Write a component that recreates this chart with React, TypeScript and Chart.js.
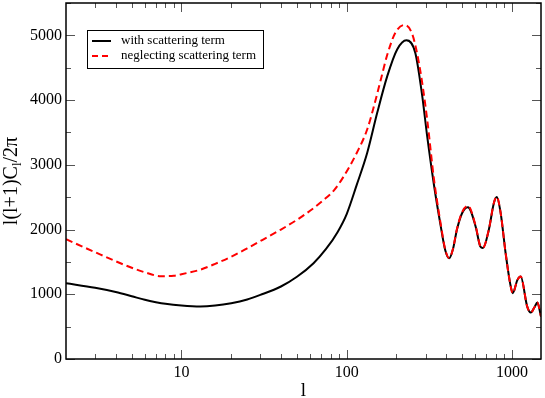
import React, { useEffect, useRef } from "react";
import { Chart, registerables } from "chart.js";

Chart.register(...registerables);

// multipole l and l(l+1)C_l/2pi — with scattering term
const ELL_WITH = [2, 3, 4, 5, 6, 7, 8, 10, 13, 16, 20, 25, 30, 40, 50, 63, 75, 88, 100, 115, 133, 153, 176, 202, 230, 260, 286, 307, 337, 371, 395, 417, 440, 465, 500, 542, 603, 644, 668, 725, 778, 810, 855, 916, 975, 1012, 1080, 1130, 1238, 1302, 1370, 1426, 1500];
const CL_WITH = [1170, 1100, 1035, 970, 915, 878, 852, 825, 810, 825, 862, 920, 990, 1120, 1270, 1480, 1700, 1960, 2240, 2690, 3183, 3803, 4370, 4783, 4925, 4732, 4080, 3442, 2700, 2050, 1680, 1555, 1700, 2000, 2255, 2345, 2048, 1738, 1713, 1997, 2410, 2503, 2255, 1636, 1172, 1017, 1223, 1274, 810, 717, 800, 872, 655];

// neglecting scattering term
const ELL_NEG = [2, 3, 4, 5, 6, 7.5, 9, 10, 13, 16, 20, 25, 31, 40, 50, 60, 72, 84, 96, 115, 133, 146, 161, 176, 197, 223, 250, 278, 307, 337, 371, 395, 417, 440, 465, 500, 542, 603, 644, 668, 725, 778, 810, 855, 916, 975, 1012, 1080, 1130, 1238, 1302, 1370, 1426, 1500];
const CL_NEG = [1850, 1650, 1510, 1410, 1340, 1280, 1285, 1310, 1380, 1470, 1580, 1710, 1842, 2000, 2150, 2290, 2450, 2610, 2822, 3183, 3545, 3900, 4320, 4700, 5040, 5160, 5010, 4474, 3700, 2790, 2080, 1690, 1560, 1705, 2010, 2270, 2365, 2060, 1745, 1720, 2000, 2415, 2505, 2255, 1636, 1172, 1017, 1223, 1274, 810, 717, 800, 872, 655];

const X_MIN = 2;
const X_MAX = 1500;
const Y_MIN = 0;
const Y_MAX = 5500;
const Y_LABELS = [0, 1000, 2000, 3000, 4000, 5000];
const X_LABELS = [10, 100, 1000];

const LEGEND = ["with scattering term", "neglecting scattering term"];
const SERIF = "'Liberation Serif', 'Times New Roman', serif";

const framePlugin = {
  id: "frameTicks",
  afterDatasetsDraw(chart: any) {
    const { ctx, chartArea: a, scales } = chart;
    const xs = scales.x;
    const ys = scales.y;
    ctx.save();
    // ticks
    ctx.strokeStyle = "#555";
    ctx.lineWidth = 1;
    ctx.beginPath();
    for (let v = Y_MIN; v <= Y_MAX; v += 500) {
      const y = Math.round(ys.getPixelForValue(v)) + 0.5;
      const len = v % 1000 === 0 ? 9 : 5;
      ctx.moveTo(a.left, y);
      ctx.lineTo(a.left + len, y);
      ctx.moveTo(a.right, y);
      ctx.lineTo(a.right - len, y);
    }
    for (let d = 1; d <= 1000; d *= 10) {
      for (let m = 1; m <= 9; m++) {
        const v = m * d;
        if (v <= X_MIN || v >= X_MAX) continue;
        const x = Math.round(xs.getPixelForValue(v)) + 0.5;
        const len = m === 1 ? 9 : 5;
        ctx.moveTo(x, a.bottom);
        ctx.lineTo(x, a.bottom - len);
        ctx.moveTo(x, a.top);
        ctx.lineTo(x, a.top + len);
      }
    }
    ctx.stroke();
    // frame
    ctx.strokeStyle = "#000";
    ctx.lineWidth = 1.5;
    ctx.strokeRect(a.left, a.top, a.right - a.left, a.bottom - a.top);

    // legend
    const lx = a.left + 21;
    const ly = a.top + 27;
    ctx.lineWidth = 1;
    ctx.strokeStyle = "#000";
    ctx.strokeRect(lx + 0.5, ly + 0.5, 176, 38);
    ctx.lineWidth = 2;
    ctx.beginPath();
    ctx.moveTo(lx + 5, ly + 11);
    ctx.lineTo(lx + 24, ly + 11);
    ctx.stroke();
    ctx.strokeStyle = "#ff0000";
    ctx.setLineDash([6, 4]);
    ctx.beginPath();
    ctx.moveTo(lx + 5, ly + 26);
    ctx.lineTo(lx + 24, ly + 26);
    ctx.stroke();
    ctx.setLineDash([]);
    ctx.fillStyle = "#000";
    ctx.font = `13px ${SERIF}`;
    ctx.textBaseline = "middle";
    ctx.textAlign = "left";
    ctx.fillText(LEGEND[0], lx + 34, ly + 11);
    ctx.fillText(LEGEND[1], lx + 34, ly + 26);

    // x title
    ctx.font = `19px ${SERIF}`;
    ctx.textAlign = "center";
    ctx.textBaseline = "alphabetic";
    ctx.fillText("l", (a.left + a.right) / 2, 396);

    // y title with subscript
    ctx.translate(17, (a.top + a.bottom) / 2);
    ctx.rotate(-Math.PI / 2);
    const big = `20px ${SERIF}`;
    const small = `13px ${SERIF}`;
    const p1 = "l(l+1)C";
    const p2 = "l";
    const p3 = "/2\u03c0";
    ctx.font = big;
    const w1 = ctx.measureText(p1).width;
    const w3 = ctx.measureText(p3).width;
    ctx.font = small;
    const w2 = ctx.measureText(p2).width;
    const total = w1 + w2 + w3;
    let cx = -total / 2;
    ctx.textAlign = "left";
    ctx.font = big;
    ctx.fillText(p1, cx, 0);
    cx += w1;
    ctx.font = small;
    ctx.fillText(p2, cx, 4);
    cx += w2;
    ctx.font = big;
    ctx.fillText(p3, cx, 0);
    ctx.restore();
  },
};

export default function App() {
  const ref = useRef<HTMLCanvasElement | null>(null);
  useEffect(() => {
    if (!ref.current) return;
    const chart = new Chart(ref.current, {
      type: "line",
      data: {
        datasets: [
          {
            label: LEGEND[1],
            data: ELL_NEG.map((l, i) => ({ x: l, y: CL_NEG[i] })),
            borderColor: "#ff0000",
            borderWidth: 2,
            borderDash: [7, 4],
            pointRadius: 0,
            fill: false,
            cubicInterpolationMode: "monotone",
            order: 0,
          },
          {
            label: LEGEND[0],
            data: ELL_WITH.map((l, i) => ({ x: l, y: CL_WITH[i] })),
            borderColor: "#000000",
            borderWidth: 2,
            pointRadius: 0,
            fill: false,
            cubicInterpolationMode: "monotone",
            order: 1,
          },
        ],
      },
      options: {
        responsive: false,
        animation: false,
        events: [],
        layout: { padding: { top: 3, right: 4, left: 0, bottom: 0 } },
        plugins: {
          legend: { display: false },
          tooltip: { enabled: false },
          title: { display: false },
        },
        scales: {
          x: {
            type: "logarithmic",
            min: X_MIN,
            max: X_MAX,
            grid: { display: false, drawTicks: false },
            border: { display: false },
            afterBuildTicks: (s: any) => {
              s.ticks = X_LABELS.map((v) => ({ value: v }));
            },
            afterFit: (s: any) => {
              s.height = 39;
              s.paddingLeft = 0;
              s.paddingRight = 0;
            },
            ticks: {
              autoSkip: false,
              maxRotation: 0,
              padding: 4,
              color: "#000",
              font: { family: SERIF, size: 16 },
              callback: (v: any) => String(v),
            },
          },
          y: {
            type: "linear",
            min: Y_MIN,
            max: Y_MAX,
            grid: { display: false, drawTicks: false },
            border: { display: false },
            afterBuildTicks: (s: any) => {
              s.ticks = Y_LABELS.map((v) => ({ value: v }));
            },
            afterFit: (s: any) => {
              s.width = 66;
              s.paddingTop = 0;
              s.paddingBottom = 0;
            },
            ticks: {
              padding: 4,
              color: "#000",
              font: { family: SERIF, size: 16 },
              callback: (v: any) => String(v),
            },
          },
        },
      },
      plugins: [framePlugin],
    });
    return () => chart.destroy();
  }, []);
  return (
    <div style={{ position: "fixed", left: 0, top: 0, width: 545, height: 398, background: "#fff" }}>
      <canvas ref={ref} width={545} height={398} />
    </div>
  );
}
